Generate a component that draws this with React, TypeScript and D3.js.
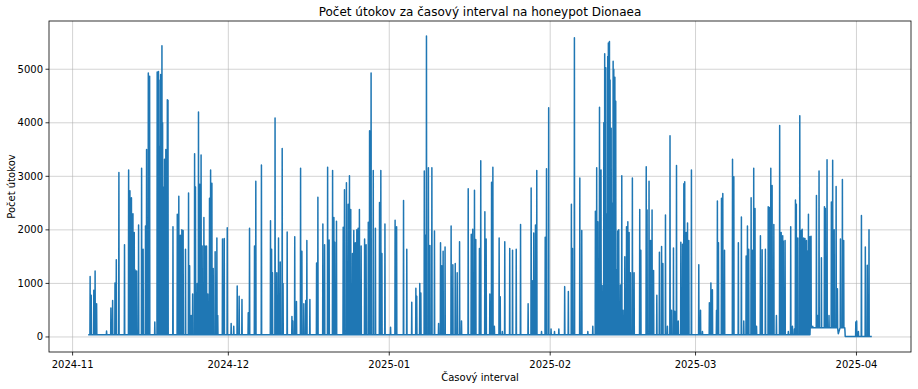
import { useMemo } from 'react';
import * as d3 from 'd3';

// spikes per month: [day of month, hour, attacks]
const novSpikes: [number, number, number][] = [
  [4, 9, 1130], [4, 14, 780], [5, 2, 870], [5, 8, 1230], [5, 15, 620],
  [7, 13, 110], [8, 9, 540], [8, 17, 680], [9, 4, 1010], [9, 10, 1440], [9, 22, 3070],
  [11, 0, 1720], [11, 19, 3120], [12, 1, 2730], [12, 8, 2600], [12, 15, 2300], [12, 21, 1950],
  [13, 1, 1250], [13, 8, 1230], [13, 17, 2090], [14, 7, 3150], [14, 14, 1640],
  [15, 1, 2070], [15, 6, 3500], [15, 14, 4930], [15, 20, 4870], [16, 20, 280],
  [17, 7, 4950], [17, 10, 4930], [17, 13, 4960], [17, 15, 4800], [17, 20, 3560], [17, 23, 4900],
  [18, 5, 5440], [18, 8, 4000], [18, 11, 2800], [18, 17, 3320], [18, 23, 3500],
  [19, 6, 4430], [19, 9, 4420], [20, 8, 2060], [21, 4, 2290], [21, 11, 2630], [21, 18, 1900],
  [22, 1, 2000], [22, 7, 1990], [22, 18, 1640], [23, 8, 2690], [23, 13, 1330], [23, 20, 400],
  [24, 3, 800], [24, 12, 3420], [24, 16, 2800], [24, 20, 820], [25, 0, 1000], [25, 3, 780],
  [25, 6, 4200], [25, 12, 2850], [25, 18, 3400], [25, 23, 1700], [26, 7, 2230], [26, 12, 1700],
  [26, 19, 1700], [27, 1, 800], [27, 9, 2590], [27, 14, 3120], [27, 20, 2870], [28, 2, 1280],
  [28, 11, 1590], [28, 19, 1850], [28, 23, 400], [29, 21, 1830], [30, 5, 1840], [30, 19, 2040],
];

const decSpikes: [number, number, number][] = [
  [1, 13, 250], [2, 1, 200], [2, 17, 950], [3, 2, 760], [3, 15, 700], [4, 20, 450],
  [5, 2, 2030], [6, 1, 1700], [6, 7, 2910], [7, 9, 3210], [9, 3, 2170], [9, 8, 1640],
  [9, 12, 1200], [10, 0, 4090], [10, 8, 1200], [10, 16, 1850], [11, 0, 1400], [11, 9, 3520],
  [11, 13, 1000], [12, 8, 1960], [13, 6, 380], [13, 10, 300], [13, 19, 1870], [14, 3, 660],
  [14, 22, 3150], [15, 4, 1600], [15, 13, 620], [15, 22, 680], [16, 3, 1800], [16, 17, 700],
  [18, 0, 1380], [18, 6, 2610], [19, 5, 2110], [19, 13, 1720], [20, 3, 3170], [20, 10, 1810],
  [21, 2, 3110], [21, 8, 2230], [21, 12, 1770], [21, 20, 2160], [23, 3, 2050], [23, 9, 2750],
  [23, 18, 2880], [24, 2, 2480], [24, 8, 3010], [24, 14, 2380], [24, 22, 1560], [25, 4, 1990],
  [25, 11, 1760], [25, 18, 2000], [26, 0, 2030], [26, 6, 2380], [26, 14, 1700], [27, 6, 1830],
  [27, 13, 1720], [27, 23, 2140], [28, 5, 3850], [28, 12, 4930], [28, 22, 3110], [29, 8, 2030],
  [30, 3, 2510], [30, 9, 3110], [30, 14, 1560], [31, 4, 2110],
];

const janSpikes: [number, number, number][] = [
  [1, 6, 180], [2, 3, 2180], [2, 10, 2060], [3, 18, 2550], [4, 9, 1640], [5, 8, 650],
  [6, 3, 910], [6, 7, 760], [6, 21, 1000], [7, 2, 820], [7, 18, 3100], [7, 22, 1900],
  [8, 4, 5620], [8, 13, 3160], [8, 20, 1710], [9, 5, 3160], [9, 17, 1980], [10, 12, 250],
  [10, 21, 1760], [11, 3, 1330], [11, 9, 1600], [11, 18, 1680], [12, 22, 2070], [13, 6, 1350],
  [13, 17, 1370], [14, 2, 1200], [14, 13, 1780], [14, 22, 300], [16, 5, 2770], [16, 19, 1920],
  [17, 2, 2010], [17, 10, 2740], [17, 16, 1820], [18, 9, 1650], [18, 15, 3290], [19, 10, 2340],
  [19, 16, 1830], [20, 9, 800], [20, 17, 2890], [20, 23, 3170], [21, 6, 200], [22, 4, 1850],
  [22, 9, 750], [22, 19, 100], [23, 6, 1780], [24, 5, 1650], [24, 18, 1620], [25, 11, 1640],
  [26, 7, 2100], [27, 18, 620], [28, 8, 2780], [28, 14, 1050], [28, 20, 1940], [29, 4, 2090],
  [29, 10, 3110], [30, 8, 100], [31, 1, 1860], [31, 7, 3140], [31, 17, 4280],
];

const febSpikes: [number, number, number][] = [
  [1, 4, 150], [1, 20, 100], [2, 16, 150], [3, 19, 940], [4, 12, 850], [5, 2, 2480],
  [5, 7, 1650], [5, 16, 5590], [6, 17, 2970], [7, 2, 1990], [8, 6, 100], [9, 5, 200],
  [9, 17, 2350], [9, 23, 3160], [10, 4, 2150], [10, 12, 4290], [10, 19, 3120], [11, 0, 960],
  [11, 8, 4000], [11, 12, 5290], [11, 17, 5030], [11, 22, 2300], [12, 2, 5240], [12, 5, 5490],
  [12, 10, 5520], [12, 13, 4800], [12, 18, 3900], [12, 21, 2500], [13, 3, 5150], [13, 6, 5000],
  [13, 11, 4850], [13, 15, 4400], [13, 20, 1250], [14, 0, 1980], [14, 5, 2000], [14, 13, 970],
  [14, 19, 3010], [15, 1, 500], [15, 9, 1500], [15, 17, 2060], [15, 23, 2150], [16, 5, 1950],
  [16, 11, 1200], [16, 20, 2970], [17, 4, 1200], [18, 6, 2380], [18, 11, 1620], [19, 12, 3180],
  [19, 16, 2370], [20, 1, 2910], [20, 8, 1800], [20, 15, 2370], [20, 22, 1240], [21, 13, 780],
  [22, 1, 1580], [22, 11, 1690], [22, 17, 1370], [23, 5, 2280], [23, 14, 200], [24, 2, 3760],
  [24, 9, 500], [24, 18, 1660], [25, 0, 480], [25, 8, 3200], [25, 16, 300], [26, 4, 1770],
  [26, 12, 1730], [26, 18, 2860], [26, 22, 2900], [27, 5, 1950], [27, 11, 2130], [27, 17, 1800],
  [28, 5, 3120],
];

const marSpikes: [number, number, number][] = [
  [1, 15, 1350], [1, 23, 500], [2, 8, 100], [3, 16, 640], [3, 23, 1010], [4, 6, 880],
  [5, 1, 500], [5, 5, 2540], [5, 10, 1760], [6, 0, 2590], [6, 6, 2680], [6, 14, 1620],
  [8, 3, 3320], [8, 9, 2990], [9, 6, 1760], [9, 20, 2240], [10, 7, 300], [10, 18, 1510],
  [11, 0, 2070], [11, 6, 1640], [11, 17, 2600], [11, 23, 1620], [12, 5, 3150], [12, 11, 2400],
  [12, 18, 200], [13, 12, 1890], [13, 20, 1630], [14, 11, 1640], [15, 0, 2430], [15, 6, 2420],
  [15, 12, 3150], [15, 18, 2830], [16, 2, 2100], [16, 14, 400], [17, 5, 3950], [17, 12, 1950],
  [17, 19, 1890], [17, 22, 1790], [18, 6, 1800], [18, 21, 100], [19, 8, 2060], [19, 16, 200],
  [20, 1, 150], [20, 6, 2560], [20, 10, 2480], [20, 17, 1850], [21, 2, 4130], [21, 8, 1990],
  [21, 13, 2010], [21, 20, 1850], [22, 2, 1840], [22, 9, 1800], [22, 13, 1600], [22, 18, 2290],
  [23, 0, 1870], [23, 6, 1880], [23, 14, 200], [24, 7, 2640], [24, 13, 400], [24, 19, 3100],
  [25, 6, 1480], [25, 20, 2430], [26, 0, 2400], [26, 8, 3310], [26, 17, 400], [27, 4, 2520],
  [27, 10, 3300], [27, 17, 2000], [28, 2, 2810], [28, 8, 900], [28, 22, 1830], [29, 7, 2940],
  [29, 13, 1800], [29, 19, 100], [31, 21, 280],
];

const aprSpikes: [number, number, number][] = [
  [1, 1, 300], [1, 9, 100], [1, 23, 2270], [2, 17, 1680], [3, 2, 1340], [3, 10, 2000],
];

// background level between spikes: [from, level]
const baseLevels: [string, number][] = [
  ['2024-11-04T00', 40],
  ['2025-03-23T02', 170],
  ['2025-03-28T12', 60],
  ['2025-03-28T20', 170],
  ['2025-03-29T20', 10],
];

const firstHour = '2024-11-04T00';
const lastHour = '2025-04-03T23';

const yTicks = [0, 1000, 2000, 3000, 4000, 5000];

const W = 918;
const H = 389;
const m = { left: 49, right: 7, top: 21, bottom: 37 };
const font = 'DejaVu Sans, sans-serif';

const parse = d3.utcParse('%Y-%m-%dT%H');
const HOUR = 3600 * 1000;

const App = () => {
  const { path, x, y } = useMemo(() => {
    const months: [number, number, [number, number, number][]][] = [
      [2024, 10, novSpikes],
      [2024, 11, decSpikes],
      [2025, 0, janSpikes],
      [2025, 1, febSpikes],
      [2025, 2, marSpikes],
      [2025, 3, aprSpikes],
    ];
    const spikes = months
      .flatMap(([yr, mo, arr]) => arr.map(([d, h, v]) => ({ t: Date.UTC(yr, mo, d, h), v })))
      .sort((a, b) => a.t - b.t);
    const bases = baseLevels.map(([s, v]) => ({ t: parse(s)!.getTime(), v }));
    const baseAt = (t: number) => {
      let v = bases[0].v;
      for (const b of bases) if (b.t <= t) v = b.v;
      return v;
    };
    const t0 = parse(firstHour)!.getTime();
    const t1 = parse(lastHour)!.getTime();
    const pts: [number, number][] = [[t0, baseAt(t0)]];
    for (const s of spikes) {
      pts.push([s.t - HOUR, baseAt(s.t - HOUR)]);
      pts.push([s.t, s.v]);
      pts.push([s.t + HOUR, baseAt(s.t + HOUR)]);
    }
    // keep base steps as explicit corners
    for (const b of bases) pts.push([b.t, b.v]);
    pts.push([t1, baseAt(t1)]);
    pts.sort((a, b) => a[0] - b[0]);

    const span = t1 - t0;
    const x = d3
      .scaleUtc()
      .domain([new Date(t0 - span * 0.05), new Date(t1 + span * 0.05)])
      .range([m.left, W - m.right]);
    const maxV = d3.max(pts, (p) => p[1])!;
    const minV = 0;
    const pad = (maxV - minV) * 0.05;
    const y = d3
      .scaleLinear()
      .domain([minV - pad, maxV + pad])
      .range([H - m.bottom, m.top]);
    const line = d3
      .line<[number, number]>()
      .x((p) => x(new Date(p[0])))
      .y((p) => y(p[1]));
    return { path: line(pts) ?? '', x, y };
  }, []);

  const xTicks = x.ticks(d3.utcMonth.every(1)!);
  const fmt = d3.utcFormat('%Y-%m');
  const plotBottom = H - m.bottom;

  return (
    <svg
      width={W}
      height={H}
      style={{ position: 'absolute', left: 0, top: 0, background: '#fff' }}
      fontFamily={font}
    >
      <rect x={0} y={0} width={W} height={H} fill="#fff" />
      <g>
        {xTicks.map((t) => (
          <line key={+t} x1={x(t)} x2={x(t)} y1={m.top} y2={plotBottom} stroke="#b0b0b0" strokeOpacity={0.7} strokeWidth={0.8} />
        ))}
        {yTicks.map((v) => (
          <line key={v} x1={m.left} x2={W - m.right} y1={y(v)} y2={y(v)} stroke="#b0b0b0" strokeOpacity={0.7} strokeWidth={0.8} />
        ))}
      </g>
      <clipPath id="plot">
        <rect x={m.left} y={m.top} width={W - m.left - m.right} height={plotBottom - m.top} />
      </clipPath>
      <path d={path} fill="none" stroke="#1f77b4" strokeWidth={1.5} strokeLinejoin="round" clipPath="url(#plot)" />
      <rect
        x={m.left}
        y={m.top}
        width={W - m.left - m.right}
        height={plotBottom - m.top}
        fill="none"
        stroke="#000"
        strokeWidth={0.8}
      />
      {xTicks.map((t) => (
        <g key={+t} transform={`translate(${x(t)},${plotBottom})`}>
          <line y2={3.5} stroke="#000" strokeWidth={0.8} />
          <text y={16} textAnchor="middle" fontSize={10} fill="#000">
            {fmt(t)}
          </text>
        </g>
      ))}
      {yTicks.map((v) => (
        <g key={v} transform={`translate(${m.left},${y(v)})`}>
          <line x2={-3.5} stroke="#000" strokeWidth={0.8} />
          <text x={-6} dy="0.35em" textAnchor="end" fontSize={10} fill="#000">
            {v}
          </text>
        </g>
      ))}
      <text x={(m.left + W - m.right) / 2} y={16} textAnchor="middle" fontSize={12} fill="#000">
        Počet útokov za časový interval na honeypot Dionaea
      </text>
      <text x={(m.left + W - m.right) / 2} y={381} textAnchor="middle" fontSize={10} fill="#000">
        Časový interval
      </text>
      <text transform={`translate(15,${(m.top + plotBottom) / 2}) rotate(-90)`} textAnchor="middle" fontSize={10} fill="#000">
        Počet útokov
      </text>
    </svg>
  );
};

export default App;
